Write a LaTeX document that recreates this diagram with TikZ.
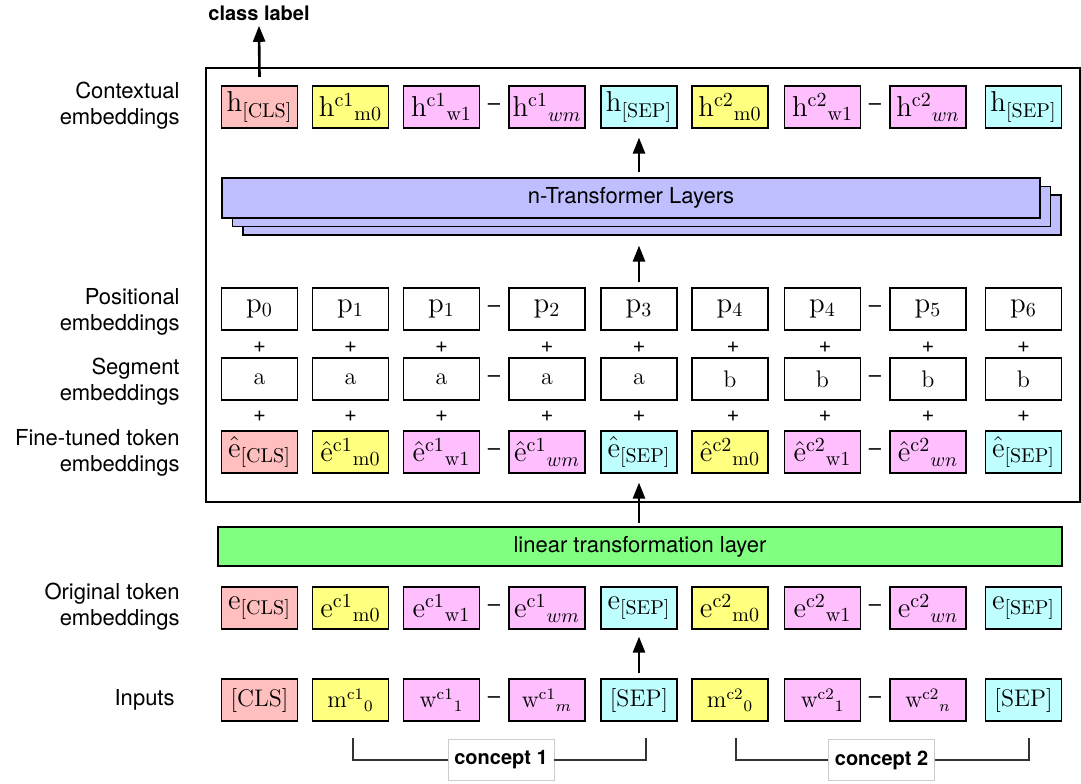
\documentclass[tikz,border=0pt]{standalone}
\usepackage{amsmath}
\usepackage{fontspec}
\setsansfont{TeX Gyre Heros}
\usetikzlibrary{arrows.meta}
\definecolor{clsred}{RGB}{255,191,191}
\definecolor{menyel}{RGB}{255,255,128}
\definecolor{wrdpink}{RGB}{255,191,255}
\definecolor{sepcyan}{RGB}{191,255,255}
\definecolor{layblue}{RGB}{191,191,255}
\definecolor{lingreen}{RGB}{128,255,128}
\newcommand{\tk}[3]{${#1}^{\mathrm{#2}}{}_{#3}$}
\tikzset{
    every node/.style={inner sep=0pt},
    tok/.style={rectangle, draw, line width=0.6pt, minimum width=38pt, minimum height=21pt, font=\Large},
    intok/.style={tok, font=\large},
    lab/.style={anchor=east, align=right, font=\sffamily\fontsize{11}{13}\selectfont},
    sym/.style={font=\sffamily\fontsize{11}{13}\selectfont},
    layer/.style={rectangle, draw, line width=0.6pt, minimum width=409pt, minimum height=20pt, fill=layblue, font=\sffamily\fontsize{11}{13}\selectfont},
    concept/.style={rectangle, draw=black!20, fill=white, minimum width=53pt, minimum height=20.5pt, font=\sffamily\bfseries\fontsize{10}{12}\selectfont},
    arr/.style={line width=1.3pt, -{Triangle[length=8pt,width=6pt]}}
}
\begin{document}
\begin{tikzpicture}[x=0.5pt, y=-0.5pt]
    \useasboundingbox (0,0) rectangle (1081,783);

    % frame round the fine-tuned part
    \draw[line width=0.6pt] (206,68) rectangle (1080,502);

    % left labels
    \node (lh) at (180,106) [lab] {Contextual\\embeddings};
    \node (lp) at (180,312) [lab] {Positional\\embeddings};
    \node (ls) at (180,382) [lab] {Segment\\embeddings};
    \node (lf) at (180,453) [lab] {Fine-tuned token\\embeddings};
    \node (le) at (180,607) [lab] {Original token\\embeddings};
    \node (li) at (175,700) [lab] {Inputs};

    % contextual embeddings
    \node (h0) at (259.5,107) [tok, fill=clsred] {$\mathrm{h}_{[\mathrm{CLS}]}$};
    \node (h1) at (350.5,107) [tok, fill=menyel] {\tk{\mathrm{h}}{c1}{\mathrm{m0}}};
    \node (h2) at (441.5,107) [tok, fill=wrdpink] {\tk{\mathrm{h}}{c1}{\mathrm{w1}}};
    \node (h3) at (547,107) [tok, fill=wrdpink] {\tk{\mathrm{h}}{c1}{wm}};
    \node (h4) at (639,107) [tok, fill=sepcyan] {$\mathrm{h}_{[\mathrm{SEP}]}$};
    \node (h5) at (730,107) [tok, fill=menyel] {\tk{\mathrm{h}}{c2}{\mathrm{m0}}};
    \node (h6) at (822.5,107) [tok, fill=wrdpink] {\tk{\mathrm{h}}{c2}{\mathrm{w1}}};
    \node (h7) at (928,107) [tok, fill=wrdpink] {\tk{\mathrm{h}}{c2}{wn}};
    \node (h8) at (1023.5,107) [tok, fill=sepcyan] {$\mathrm{h}_{[\mathrm{SEP}]}$};
    \node (hd1) at (494,107) [sym] {--};
    \node (hd2) at (875,107) [sym] {--};

    \node (cls) at (259,13) [font=\sffamily\bfseries\fontsize{10}{12}\selectfont] {class label};
    \draw[arr] ([yshift=4.25pt]h0.north) -- ([yshift=-2.5pt]cls.south);

    % transformer layers
    \node (tl3) at (652,215) [layer] {};
    \node (tl2) at (641.5,206.5) [layer] {};
    \node (tl1) at (631,198) [layer] {n-Transformer Layers};
    \coordinate (a1) at (h4.south |- tl1.north);
    \coordinate (a2) at (h4.south |- tl3.south);
    \draw[arr] ([yshift=2.5pt]a1) -- ([yshift=-4.5pt]h4.south);

    % positional embeddings
    \node (p0) at (259.5,309) [tok] {$\mathrm{p}_0$};
    \node (p1) at (350.5,309) [tok] {$\mathrm{p}_1$};
    \node (p2) at (441.5,309) [tok] {$\mathrm{p}_1$};
    \node (p3) at (547,309) [tok] {$\mathrm{p}_2$};
    \node (p4) at (639,309) [tok] {$\mathrm{p}_3$};
    \node (p5) at (730,309) [tok] {$\mathrm{p}_4$};
    \node (p6) at (822.5,309) [tok] {$\mathrm{p}_4$};
    \node (p7) at (928,309) [tok] {$\mathrm{p}_5$};
    \node (p8) at (1023.5,309) [tok] {$\mathrm{p}_6$};
    \node (pd1) at (494,309) [sym] {--};
    \node (pd2) at (875,309) [sym] {--};
    \draw[arr] ([yshift=2.5pt]p4.north) -- ([yshift=-5pt]a2);

    % segment embeddings
    \node (s0) at (259.5,379) [intok] {a};
    \node (s1) at (350.5,379) [intok] {a};
    \node (s2) at (441.5,379) [intok] {a};
    \node (s3) at (547,379) [intok] {a};
    \node (s4) at (639,379) [intok] {a};
    \node (s5) at (730,379) [intok] {b};
    \node (s6) at (822.5,379) [intok] {b};
    \node (s7) at (928,379) [intok] {b};
    \node (s8) at (1023.5,379) [intok] {b};
    \node (sd1) at (494,379) [sym] {--};
    \node (sd2) at (875,379) [sym] {--};

    % plus signs
    \node (q0) at (259.5,347) [sym] {+};
    \node (q1) at (350.5,347) [sym] {+};
    \node (q2) at (441.5,347) [sym] {+};
    \node (q3) at (547,347) [sym] {+};
    \node (q4) at (639,347) [sym] {+};
    \node (q5) at (733,347) [sym] {+};
    \node (q6) at (825,347) [sym] {+};
    \node (q7) at (928,347) [sym] {+};
    \node (q8) at (1023.5,347) [sym] {+};
    \node (r0) at (259.5,416) [sym] {+};
    \node (r1) at (350.5,416) [sym] {+};
    \node (r2) at (441.5,416) [sym] {+};
    \node (r3) at (547,416) [sym] {+};
    \node (r4) at (639,416) [sym] {+};
    \node (r5) at (733,416) [sym] {+};
    \node (r6) at (825,416) [sym] {+};
    \node (r7) at (928,416) [sym] {+};
    \node (r8) at (1023.5,416) [sym] {+};

    % fine-tuned token embeddings
    \node (f0) at (259.5,452) [tok, fill=clsred] {${\hat{\mathrm{e}}}_{[\mathrm{CLS}]}$};
    \node (f1) at (350.5,452) [tok, fill=menyel] {\tk{\hat{\mathrm{e}}}{c1}{\mathrm{m0}}};
    \node (f2) at (441.5,452) [tok, fill=wrdpink] {\tk{\hat{\mathrm{e}}}{c1}{\mathrm{w1}}};
    \node (f3) at (547,452) [tok, fill=wrdpink] {\tk{\hat{\mathrm{e}}}{c1}{wm}};
    \node (f4) at (639,452) [tok, fill=sepcyan] {${\hat{\mathrm{e}}}_{[\mathrm{SEP}]}$};
    \node (f5) at (730,452) [tok, fill=menyel] {\tk{\hat{\mathrm{e}}}{c2}{\mathrm{m0}}};
    \node (f6) at (822.5,452) [tok, fill=wrdpink] {\tk{\hat{\mathrm{e}}}{c2}{\mathrm{w1}}};
    \node (f7) at (928,452) [tok, fill=wrdpink] {\tk{\hat{\mathrm{e}}}{c2}{wn}};
    \node (f8) at (1023.5,452) [tok, fill=sepcyan] {${\hat{\mathrm{e}}}_{[\mathrm{SEP}]}$};
    \node (fd1) at (494,452) [sym] {--};
    \node (fd2) at (875,452) [sym] {--};

    % linear layer
    \node (lin) at (640,546.5) [layer, fill=lingreen, minimum width=422pt, minimum height=19.5pt] {linear transformation layer};
    \draw[arr] ([yshift=1.5pt]lin.north -| f4.south) -- ([yshift=-4.5pt]f4.south);

    % original token embeddings
    \node (e0) at (259.5,608) [tok, fill=clsred] {$\mathrm{e}_{[\mathrm{CLS}]}$};
    \node (e1) at (350.5,608) [tok, fill=menyel] {\tk{\mathrm{e}}{c1}{\mathrm{m0}}};
    \node (e2) at (441.5,608) [tok, fill=wrdpink] {\tk{\mathrm{e}}{c1}{\mathrm{w1}}};
    \node (e3) at (547,608) [tok, fill=wrdpink] {\tk{\mathrm{e}}{c1}{wm}};
    \node (e4) at (639,608) [tok, fill=sepcyan] {$\mathrm{e}_{[\mathrm{SEP}]}$};
    \node (e5) at (730,608) [tok, fill=menyel] {\tk{\mathrm{e}}{c2}{\mathrm{m0}}};
    \node (e6) at (822.5,608) [tok, fill=wrdpink] {\tk{\mathrm{e}}{c2}{\mathrm{w1}}};
    \node (e7) at (928,608) [tok, fill=wrdpink] {\tk{\mathrm{e}}{c2}{wn}};
    \node (e8) at (1023.5,608) [tok, fill=sepcyan] {$\mathrm{e}_{[\mathrm{SEP}]}$};
    \node (ed1) at (494,608) [sym] {--};
    \node (ed2) at (875,608) [sym] {--};

    % inputs
    \node (in0) at (259.5,700) [intok, fill=clsred] {[CLS]};
    \node (in1) at (350.5,700) [intok, fill=menyel] {\tk{\mathrm{m}}{c1}{0}};
    \node (in2) at (441.5,700) [intok, fill=wrdpink] {\tk{\mathrm{w}}{c1}{1}};
    \node (in3) at (547,700) [intok, fill=wrdpink] {\tk{\mathrm{w}}{c1}{m}};
    \node (in4) at (639,700) [intok, fill=sepcyan] {[SEP]};
    \node (in5) at (730,700) [intok, fill=menyel] {\tk{\mathrm{m}}{c2}{0}};
    \node (in6) at (822.5,700) [intok, fill=wrdpink] {\tk{\mathrm{w}}{c2}{1}};
    \node (in7) at (928,700) [intok, fill=wrdpink] {\tk{\mathrm{w}}{c2}{n}};
    \node (in8) at (1023.5,700) [intok, fill=sepcyan] {[SEP]};
    \node (id1) at (494,700) [sym] {--};
    \node (id2) at (875,700) [sym] {--};
    \draw[arr] ([yshift=2.5pt]in4.north) -- ([yshift=-3.5pt]e4.south);

    % concept brackets
    \node (c1) at (501,760) [concept] {concept 1};
    \node (c2) at (881.5,760) [concept] {concept 2};
    \draw[line width=0.6pt, black!80] ([xshift=1.25pt, yshift=-8pt]in1.south) |- (c1.west);
    \draw[line width=0.6pt, black!80] (c1.east) -| ([xshift=3.5pt, yshift=-8pt]in4.south);
    \draw[line width=0.6pt, black!80] ([xshift=3pt, yshift=-8pt]in5.south) |- (c2.west);
    \draw[line width=0.6pt, black!80] (c2.east) -| ([xshift=2.75pt, yshift=-8pt]in8.south);
\end{tikzpicture}
\end{document}
